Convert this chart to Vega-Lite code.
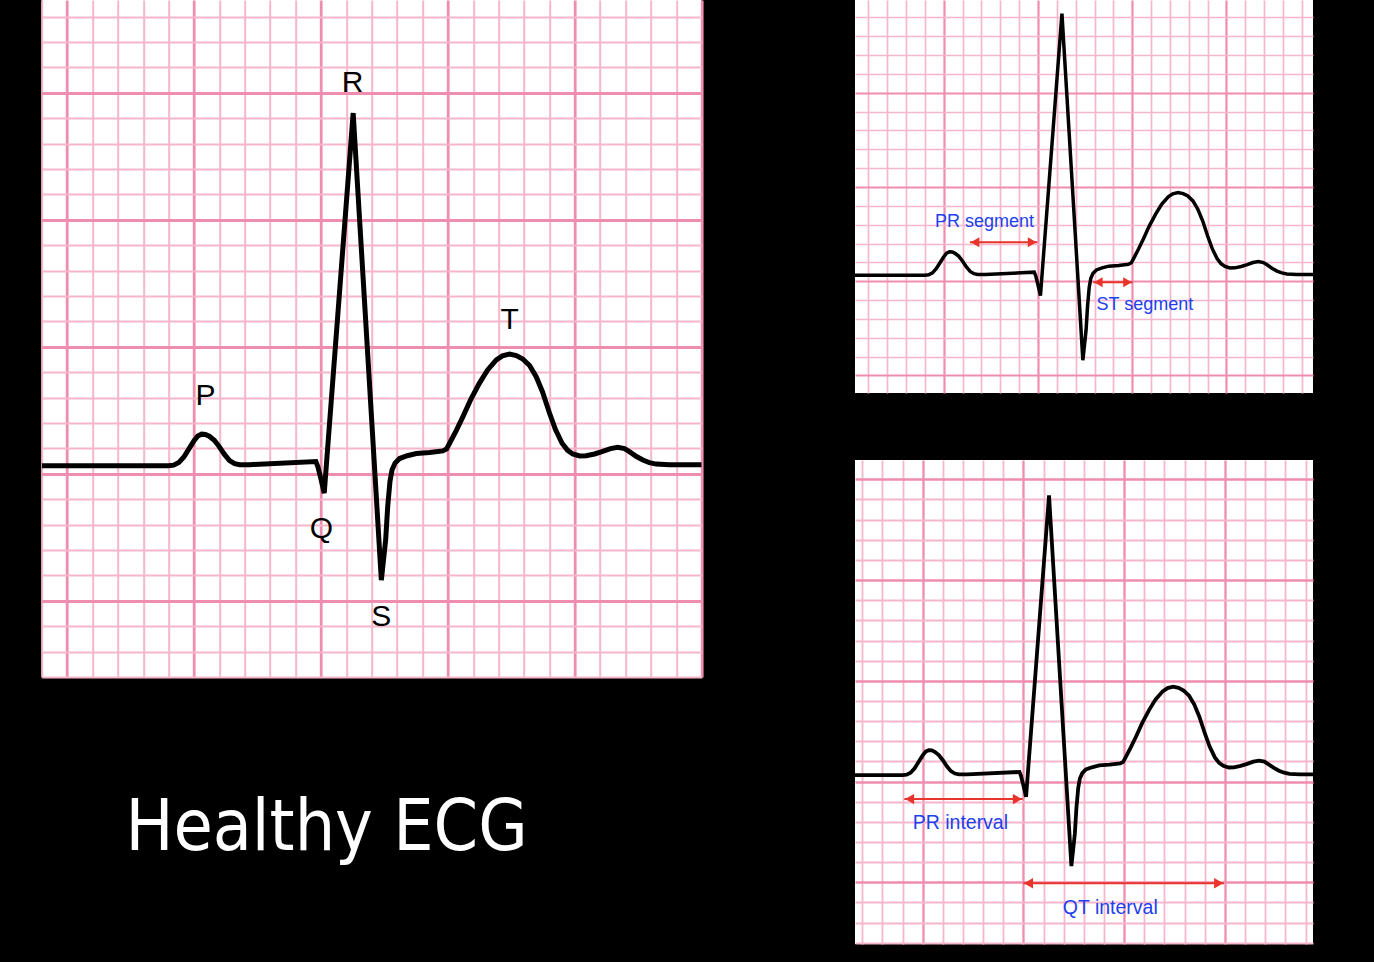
{
  "$schema": "https://vega.github.io/schema/vega-lite/v6.json",
  "background": "black",
  "padding": {"left": 41.7, "top": 0, "right": 61, "bottom": 0},
  "config": {"view": {"stroke": null}},
  "datasets": {
    "ecg": [
      {"u": -1.0, "v": 0.32}, {"u": 4.0, "v": 0.32}, {"u": 4.2, "v": 0.34}, {"u": 4.4, "v": 0.44},
      {"u": 4.6, "v": 0.66}, {"u": 4.8, "v": 0.98}, {"u": 5.0, "v": 1.3}, {"u": 5.15, "v": 1.49},
      {"u": 5.3, "v": 1.56}, {"u": 5.45, "v": 1.55}, {"u": 5.6, "v": 1.48}, {"u": 5.8, "v": 1.32},
      {"u": 6.0, "v": 1.06}, {"u": 6.2, "v": 0.76}, {"u": 6.4, "v": 0.52}, {"u": 6.6, "v": 0.4},
      {"u": 6.8, "v": 0.36}, {"u": 7.2, "v": 0.36}, {"u": 9.8, "v": 0.48}, {"u": 9.88, "v": 0.28},
      {"u": 10.0, "v": -0.2}, {"u": 10.13, "v": -0.76}, {"u": 11.27, "v": 14.2}, {"u": 12.38, "v": -4.19},
      {"u": 12.55, "v": -2.6}, {"u": 12.63, "v": -1.3}, {"u": 12.72, "v": -0.3}, {"u": 12.8, "v": 0.15},
      {"u": 12.92, "v": 0.42}, {"u": 13.1, "v": 0.6}, {"u": 13.4, "v": 0.71}, {"u": 13.76, "v": 0.8},
      {"u": 14.28, "v": 0.84}, {"u": 14.8, "v": 0.9}, {"u": 14.95, "v": 0.98}, {"u": 15.07, "v": 1.2},
      {"u": 15.34, "v": 1.72}, {"u": 15.59, "v": 2.24}, {"u": 15.89, "v": 2.9}, {"u": 16.24, "v": 3.56},
      {"u": 16.56, "v": 4.08}, {"u": 16.91, "v": 4.48}, {"u": 17.15, "v": 4.64}, {"u": 17.43, "v": 4.71},
      {"u": 17.7, "v": 4.65}, {"u": 17.95, "v": 4.52}, {"u": 18.22, "v": 4.26}, {"u": 18.48, "v": 3.82},
      {"u": 18.73, "v": 3.22}, {"u": 19.0, "v": 2.4}, {"u": 19.24, "v": 1.74}, {"u": 19.5, "v": 1.2},
      {"u": 19.71, "v": 0.93}, {"u": 19.92, "v": 0.78}, {"u": 20.19, "v": 0.7}, {"u": 20.45, "v": 0.71},
      {"u": 20.78, "v": 0.78}, {"u": 21.1, "v": 0.88}, {"u": 21.41, "v": 0.99}, {"u": 21.69, "v": 1.04},
      {"u": 21.96, "v": 0.99}, {"u": 22.15, "v": 0.87}, {"u": 22.43, "v": 0.68}, {"u": 22.68, "v": 0.54},
      {"u": 22.94, "v": 0.44}, {"u": 23.2, "v": 0.38}, {"u": 23.73, "v": 0.36}, {"u": 25.0, "v": 0.36}
    ],
    "waves": [
      {"label": "P", "u": 5.45, "v": 2.7},
      {"label": "R", "u": 11.25, "v": 15.03},
      {"label": "T", "u": 17.43, "v": 5.69},
      {"label": "Q", "u": 10.02, "v": -2.52},
      {"label": "S", "u": 12.38, "v": -6.0}
    ],
    "notes": [
      {"panel": "top", "label": "PR segment", "u": 7.16, "v": 2.9},
      {"panel": "top", "label": "ST segment", "u": 15.67, "v": -1.52},
      {"panel": "bottom", "label": "PR interval", "u": 6.87, "v": -2.37},
      {"panel": "bottom", "label": "QT interval", "u": 14.31, "v": -6.59}
    ],
    "arrows": [
      {"panel": "top", "u": 6.39, "u2": 9.96, "v": 2.07},
      {"panel": "top", "u": 12.93, "u2": 15.02, "v": -0.05},
      {"panel": "bottom", "u": 4.09, "u2": 9.96, "v": -0.87},
      {"panel": "bottom", "u": 9.99, "u2": 19.95, "v": -5.05}
    ],
    "heads": [
      {"panel": "top", "u": 6.66, "v": 2.07, "dir": "left"},
      {"panel": "top", "u": 9.69, "v": 2.07, "dir": "right"},
      {"panel": "top", "u": 13.2, "v": -0.05, "dir": "left"},
      {"panel": "top", "u": 14.75, "v": -0.05, "dir": "right"},
      {"panel": "bottom", "u": 4.35, "v": -0.87, "dir": "left"},
      {"panel": "bottom", "u": 9.7, "v": -0.87, "dir": "right"},
      {"panel": "bottom", "u": 10.25, "v": -5.05, "dir": "left"},
      {"panel": "bottom", "u": 19.69, "v": -5.05, "dir": "right"}
    ]
  },
  "spacing": 153.3,
  "hconcat": [
    {
      "vconcat": [
        {
          "width": 660,
          "height": 677,
          "view": {"fill": "white", "stroke": null},
          "encoding": {
            "x": {"field": "u", "type": "quantitative",
              "scale": {"domain": [-1, 25], "nice": false, "zero": false},
              "axis": {"values": [-1,0,1,2,3,4,5,6,7,8,9,10,11,12,13,14,15,16,17,18,19,20,21,22,23,24,25],
                "grid": true, "labels": false, "ticks": false, "domain": false, "title": null,
                "gridColor": {"condition": {"test": "datum.value % 5 === 0", "value": "#ef8db0"}, "value": "#f6b6cb"},
                "gridWidth": {"condition": {"test": "datum.value % 5 === 0", "value": 2.8}, "value": 2}}},
            "y": {"field": "v", "type": "quantitative",
              "scale": {"domain": [-8, 18.65], "nice": false, "zero": false},
              "axis": {"values": [-8,-7,-6,-5,-4,-3,-2,-1,0,1,2,3,4,5,6,7,8,9,10,11,12,13,14,15,16,17,18],
                "grid": true, "labels": false, "ticks": false, "domain": false, "title": null,
                "gridColor": {"condition": {"test": "datum.value % 5 === 0", "value": "#ef8db0"}, "value": "#f6b6cb"},
                "gridWidth": {"condition": {"test": "datum.value % 5 === 0", "value": 2.8}, "value": 2}}}
          },
          "layer": [
            {"data": {"name": "ecg"},
             "mark": {"type": "line", "clip": true, "color": "black", "strokeWidth": 5, "strokeJoin": "miter"}},
            {"data": {"name": "waves"},
             "mark": {"type": "text", "font": "Liberation Sans", "fontSize": 30, "color": "black", "align": "center", "baseline": "alphabetic"},
             "encoding": {"text": {"field": "label"}}}
          ]
        },
        {
          "width": 660,
          "height": 285,
          "data": {"values": [{"title": "Healthy ECG"}]},
          "mark": {"type": "text", "font": "DejaVu Sans Condensed, sans-serif", "fontSize": 71, "color": "white", "align": "center", "baseline": "alphabetic"},
          "encoding": {
            "text": {"field": "title"},
            "x": {"datum": 284.8, "type": "quantitative", "scale": {"domain": [0, 660], "nice": false, "zero": false}, "axis": null},
            "y": {"datum": 112, "type": "quantitative", "scale": {"domain": [0, 285], "nice": false, "zero": false}, "axis": null}
          }
        }
      ],
      "spacing": 0
    },
    {
      "vconcat": [
        {
          "width": 458,
          "height": 393,
          "view": {"fill": "white", "stroke": null},
          "encoding": {
            "x": {"field": "u", "type": "quantitative",
              "scale": {"domain": [0.29, 24.59], "nice": false, "zero": false},
              "axis": {"values": [1,2,3,4,5,6,7,8,9,10,11,12,13,14,15,16,17,18,19,20,21,22,23,24],
                "grid": true, "labels": false, "ticks": false, "domain": false, "title": null,
                "gridColor": {"condition": {"test": "datum.value % 5 === 0", "value": "#ef8db0"}, "value": "#f6b6cb"},
                "gridWidth": {"condition": {"test": "datum.value % 5 === 0", "value": 2.2}, "value": 1.7}}},
            "y": {"field": "v", "type": "quantitative",
              "scale": {"domain": [-5.93, 14.92], "nice": false, "zero": false},
              "axis": {"values": [-5,-4,-3,-2,-1,0,1,2,3,4,5,6,7,8,9,10,11,12,13,14],
                "grid": true, "labels": false, "ticks": false, "domain": false, "title": null,
                "gridColor": {"condition": {"test": "datum.value % 5 === 0", "value": "#ef8db0"}, "value": "#f6b6cb"},
                "gridWidth": {"condition": {"test": "datum.value % 5 === 0", "value": 2.2}, "value": 1.7}}}
          },
          "layer": [
            {"data": {"name": "ecg"},
             "mark": {"type": "line", "clip": true, "color": "black", "strokeWidth": 3.5, "strokeJoin": "miter"}},
            {"data": {"name": "arrows"}, "transform": [{"filter": "datum.panel === 'top'"}],
             "mark": {"type": "rule", "color": "#e8342a", "strokeWidth": 2},
             "encoding": {"x2": {"field": "u2"}}},
            {"data": {"name": "heads"}, "transform": [{"filter": "datum.panel === 'top'"}],
             "mark": {"type": "point", "filled": true, "color": "#e8342a", "opacity": 1, "size": 100},
             "encoding": {"shape": {"field": "dir", "type": "nominal", "scale": {"domain": ["left", "right"], "range": ["triangle-left", "triangle-right"]}, "legend": null}}},
            {"data": {"name": "notes"}, "transform": [{"filter": "datum.panel === 'top'"}],
             "mark": {"type": "text", "font": "Liberation Sans", "fontSize": 18, "color": "#2040f0", "align": "center", "baseline": "alphabetic"},
             "encoding": {"text": {"field": "label"}}}
          ]
        },
        {
          "width": 458,
          "height": 484,
          "view": {"fill": "white", "stroke": null},
          "encoding": {
            "x": {"field": "u", "type": "quantitative",
              "scale": {"domain": [1.64, 24.37], "nice": false, "zero": false},
              "axis": {"values": [2,3,4,5,6,7,8,9,10,11,12,13,14,15,16,17,18,19,20,21,22,23,24],
                "grid": true, "labels": false, "ticks": false, "domain": false, "title": null,
                "gridColor": {"condition": {"test": "datum.value % 5 === 0", "value": "#ef8db0"}, "value": "#f6b6cb"},
                "gridWidth": {"condition": {"test": "datum.value % 5 === 0", "value": 2.3}, "value": 1.8}}},
            "y": {"field": "v", "type": "quantitative",
              "scale": {"domain": [-8.06, 15.96], "nice": false, "zero": false},
              "axis": {"values": [-8,-7,-6,-5,-4,-3,-2,-1,0,1,2,3,4,5,6,7,8,9,10,11,12,13,14,15],
                "grid": true, "labels": false, "ticks": false, "domain": false, "title": null,
                "gridColor": {"condition": {"test": "datum.value % 5 === 0", "value": "#ef8db0"}, "value": "#f6b6cb"},
                "gridWidth": {"condition": {"test": "datum.value % 5 === 0", "value": 2.3}, "value": 1.8}}}
          },
          "layer": [
            {"data": {"name": "ecg"},
             "mark": {"type": "line", "clip": true, "color": "black", "strokeWidth": 3.8, "strokeJoin": "miter"}},
            {"data": {"name": "arrows"}, "transform": [{"filter": "datum.panel === 'bottom'"}],
             "mark": {"type": "rule", "color": "#e8342a", "strokeWidth": 2},
             "encoding": {"x2": {"field": "u2"}}},
            {"data": {"name": "heads"}, "transform": [{"filter": "datum.panel === 'bottom'"}],
             "mark": {"type": "point", "filled": true, "color": "#e8342a", "opacity": 1, "size": 110},
             "encoding": {"shape": {"field": "dir", "type": "nominal", "scale": {"domain": ["left", "right"], "range": ["triangle-left", "triangle-right"]}, "legend": null}}},
            {"data": {"name": "notes"}, "transform": [{"filter": "datum.panel === 'bottom'"}],
             "mark": {"type": "text", "font": "Liberation Sans", "fontSize": 19.5, "color": "#2040f0", "align": "center", "baseline": "alphabetic"},
             "encoding": {"text": {"field": "label"}}}
          ]
        }
      ],
      "spacing": 67
    }
  ]
}
